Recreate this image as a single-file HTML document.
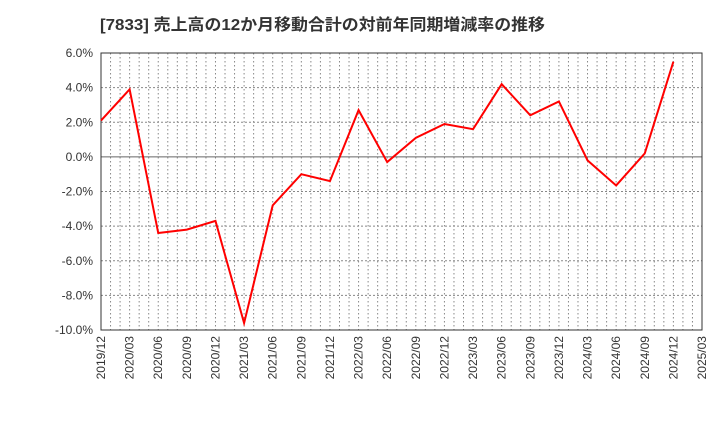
<!DOCTYPE html>
<html><head><meta charset="utf-8"><style>
body{margin:0;background:#fff;width:720px;height:440px;overflow:hidden;font-family:"Liberation Sans","Noto Sans CJK JP",sans-serif}
</style></head><body>
<svg id="chart" width="720" height="440" xmlns="http://www.w3.org/2000/svg">
<text x="100" y="30" font-size="16" font-weight="bold" fill="#333" textLength="445" lengthAdjust="spacingAndGlyphs" font-family="Liberation Sans, Noto Sans CJK JP, sans-serif">[7833]  売上高の12か月移動合計の対前年同期増減率の推移</text>
<g id="grid"></g><g id="axes"></g><g id="series"></g>
</svg>
<script>
const categories=["2019/12","2020/03","2020/06","2020/09","2020/12","2021/03","2021/06","2021/09","2021/12","2022/03","2022/06","2022/09","2022/12","2023/03","2023/06","2023/09","2023/12","2024/03","2024/06","2024/09","2024/12","2025/03"];
const values=[2.1,3.9,-4.4,-4.2,-3.7,-9.6,-2.8,-1.0,-1.4,2.7,-0.3,1.1,1.9,1.6,4.2,2.4,3.2,-0.2,-1.65,0.2,5.5];
const yTicks=[6,4,2,0,-2,-4,-6,-8,-10];
const yTickLabels=["6.0%","4.0%","2.0%","0.0%","-2.0%","-4.0%","-6.0%","-8.0%","-10.0%"];
const L=101,R=702,T=53,B=330,yMin=-10,yMax=6;
const NS="http://www.w3.org/2000/svg";
const nMonths=(categories.length-1)*3;
function x(i){return L+(R-L)*i/(categories.length-1);}
function xm(m){return L+(R-L)*m/nMonths;}
function y(v){return T+(yMax-v)/(yMax-yMin)*(B-T);}
function mk(tag,attrs,parent){const e=document.createElementNS(NS,tag);for(const k in attrs)e.setAttribute(k,attrs[k]);parent.appendChild(e);return e;}
const grid=document.getElementById('grid'),axes=document.getElementById('axes'),ser=document.getElementById('series');
for(let m=1;m<nMonths;m++){
 const l=mk('line',{x1:xm(m),x2:xm(m),y1:T,y2:B,stroke:'#888','stroke-width':1,'stroke-dasharray':'1.5,2.5'},grid);
 
 
}
yTicks.forEach((v,i)=>{
 const l=mk('line',{x1:L,x2:R,y1:y(v),y2:y(v),stroke:v===0?'#666':'#888','stroke-width':1,'stroke-dasharray':v===0?'none':'2,2'},grid);
 
 
 const t=mk('text',{x:L-8,y:y(v)+4,'text-anchor':'end','font-size':12,fill:'#333'},axes);
 t.textContent=yTickLabels[i];
 
 
});
const fr=mk('rect',{x:L,y:T,width:R-L,height:B-T,fill:'none',stroke:'#333','stroke-width':1},axes);


categories.forEach((c,i)=>{
 const t=mk('text',{x:0,y:0,'text-anchor':'end','font-size':12,fill:'#333',transform:`translate(${x(i)+4},${B+6}) rotate(-90)`},axes);
 t.textContent=c;
 
 
});
const p=mk('polyline',{points:values.map((v,i)=>x(i)+','+y(v)).join(' '),fill:'none',stroke:'#ff0000','stroke-width':2,'stroke-linejoin':'miter'},ser);


</script>
</body></html>
